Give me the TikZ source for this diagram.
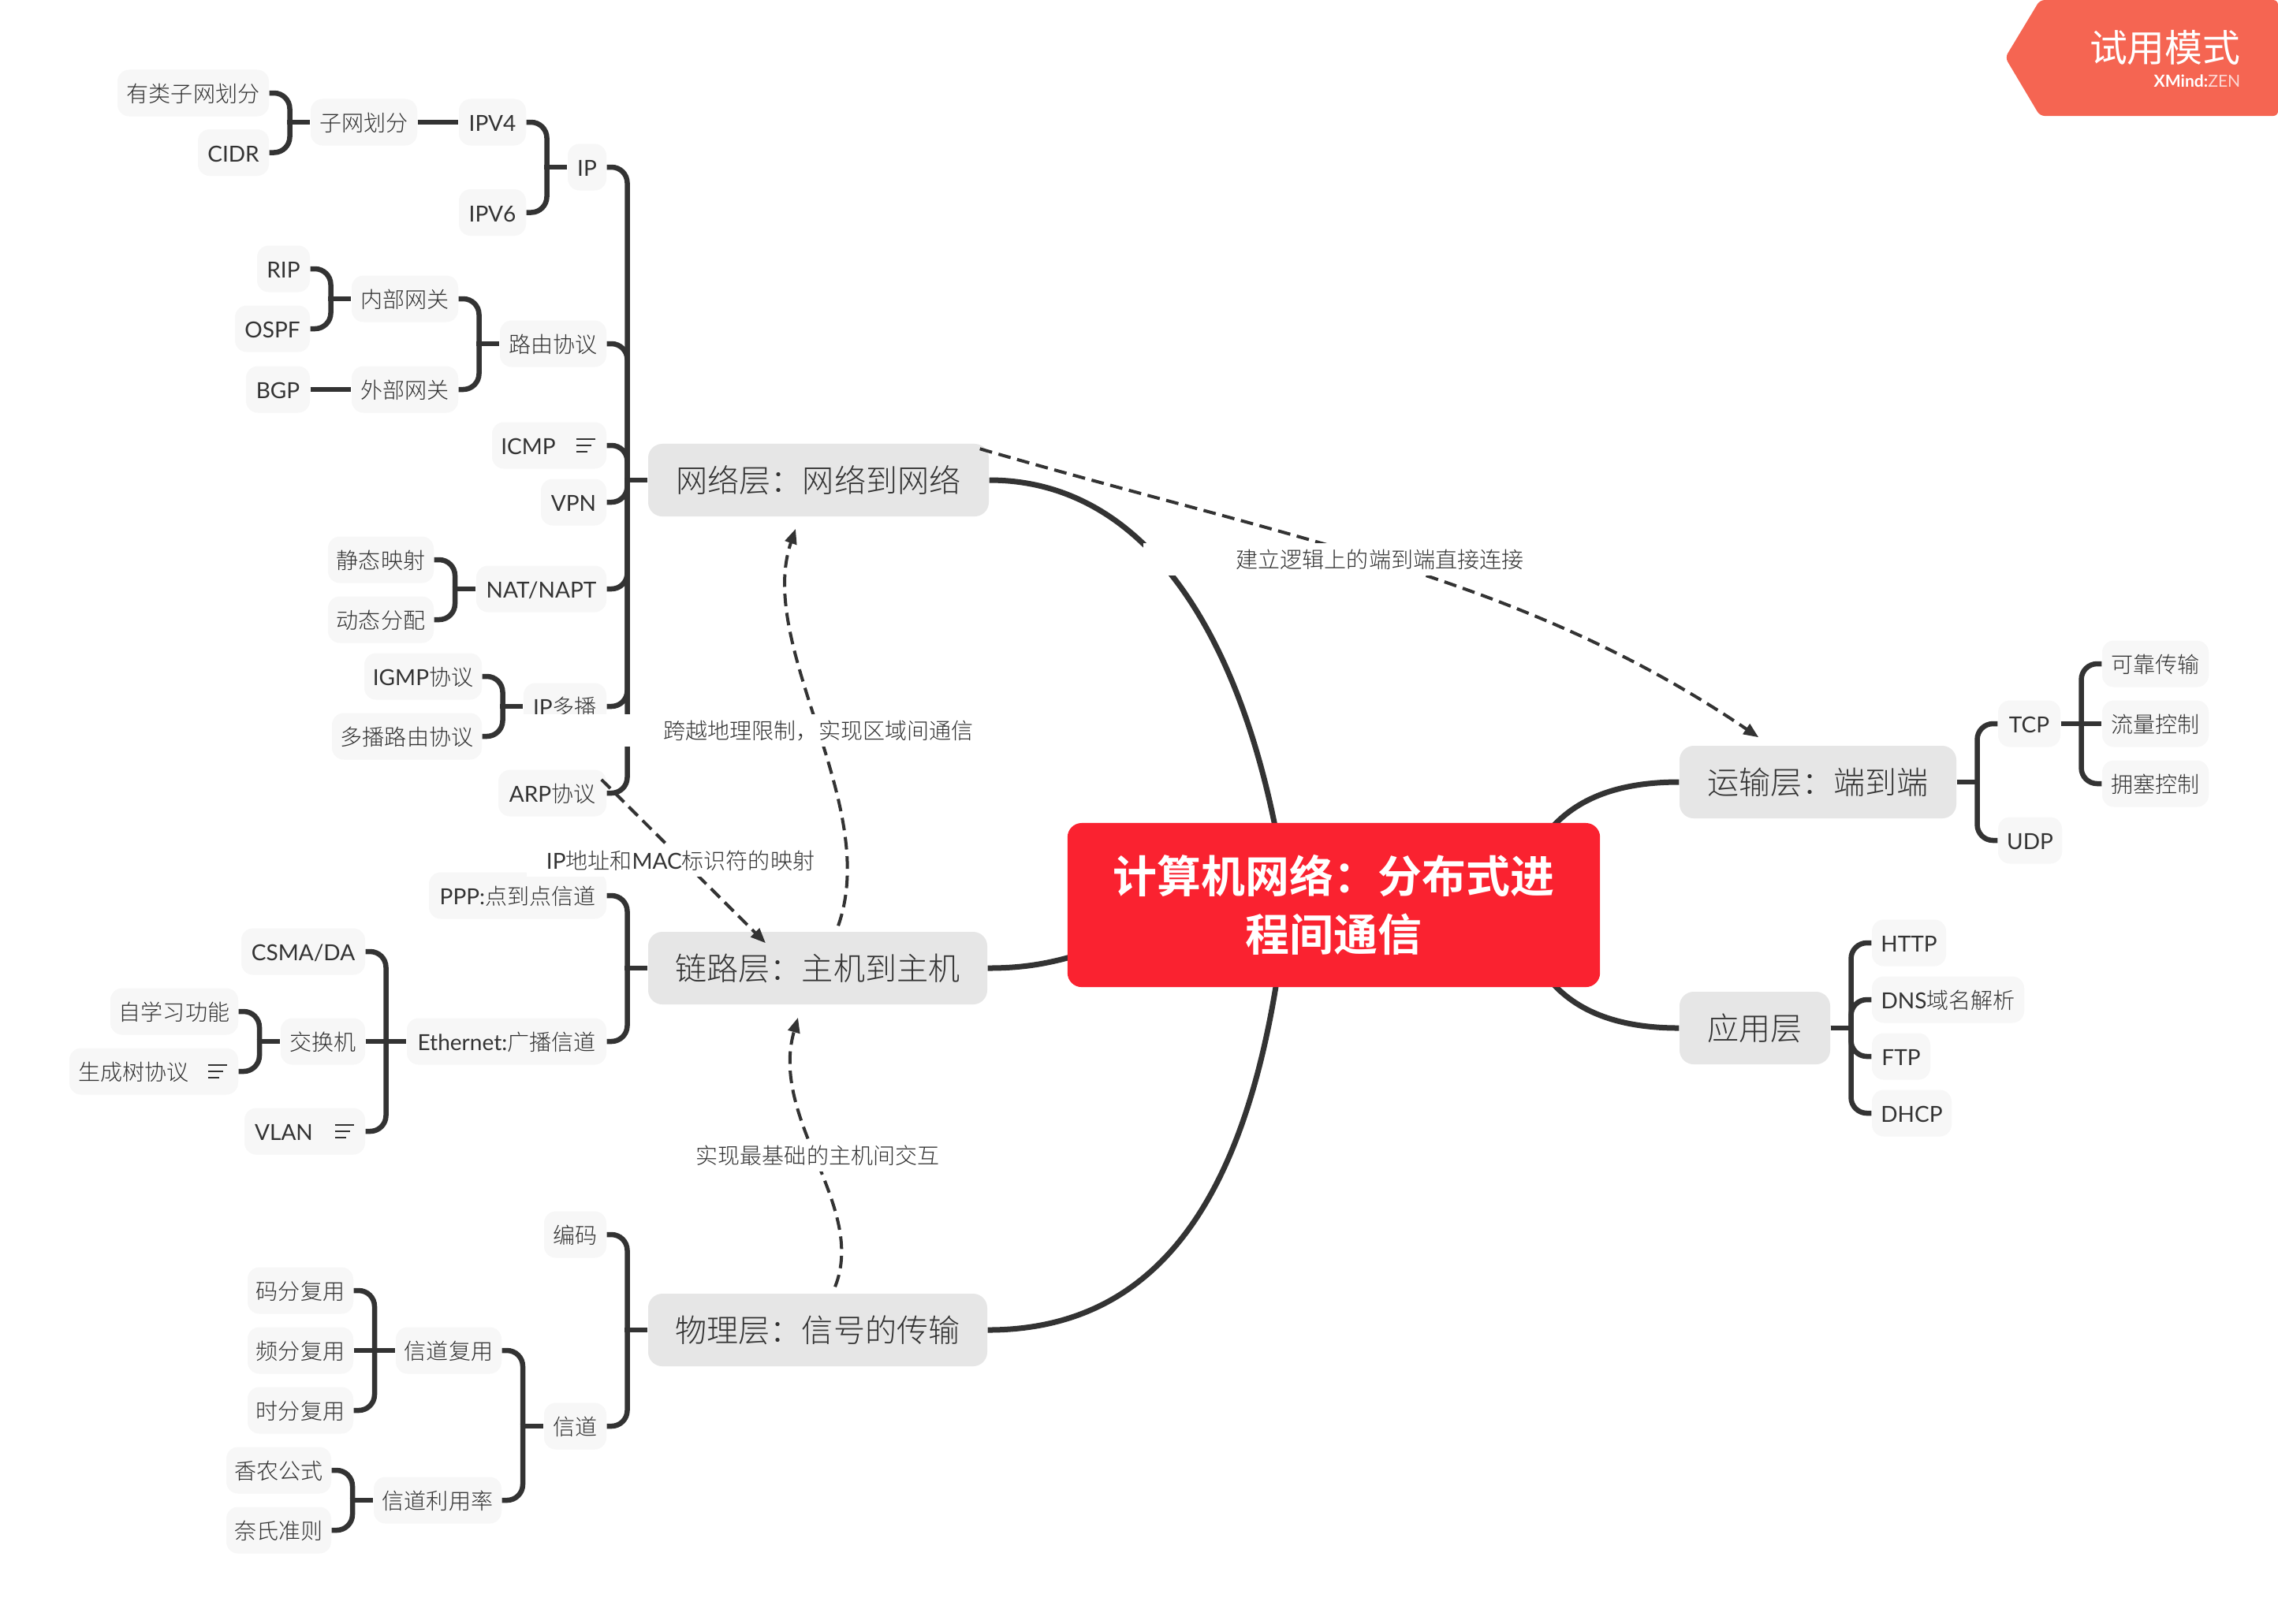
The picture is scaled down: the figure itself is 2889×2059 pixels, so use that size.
\documentclass[tikz,border=0pt]{standalone}
\usepackage{fontspec}
\setmainfont{Noto Sans CJK SC Light}[BoldFont={Noto Sans CJK SC Bold}]
\newfontfamily\latn{Lato}
\newfontfamily\cjkreg{Noto Sans CJK SC}
\usetikzlibrary{arrows.meta,calc,backgrounds}
\definecolor{ink}{HTML}{333333}
\definecolor{leaffill}{HTML}{F7F7F7}
\definecolor{mainfill}{HTML}{E6E6E6}
\definecolor{rootfill}{HTML}{FA2230}
\definecolor{badgefill}{HTML}{F56552}
\newcommand\la[1]{{\latn #1}}
\newcommand\fcolon{\char"FF1A\relax}
\newcommand\fcomma{\char"FF0C\relax}
\newcommand\mk[6][leaf]{\node[#1,minimum width={(#4-#3)*0.01cm}] (#2) at ({(#3+#4)/2},#5) {#6};}
\newcommand\lk[2]{%
  \draw[conn,rounded corners=.2cm] let \p1=(#1.east),\p2=(#2.west),\p3=($(#1.east)!.5!(#2.west)$) in (\p1) -- (\x3,\y1) -- (\x3,\y2);
  \draw[conn] let \p2=(#2.west),\p3=($(#1.east)!.5!(#2.west)$) in ([xshift=-.035cm]\x3,\y2) -- (\p2);}
\newcommand\lkr[2]{%
  \draw[conn,rounded corners=.2cm] let \p1=(#1.east),\p2=(#2.west),\p3=($(#1.east)!.5!(#2.west)$) in (\p2) -- (\x3,\y2) -- (\x3,\y1);
  \draw[conn] let \p1=(#1.east),\p3=($(#1.east)!.5!(#2.west)$) in (\p1) -- ([xshift=.035cm]\x3,\y1);}
\newcommand\st[2]{\draw[conn] (#1.east) -- (#2.west);}
\newcommand\noteicon[1]{%
  \draw[icon] ([shift={(-39,-8)}]#1.east) -- ([shift={(-15,-8)}]#1.east);
  \draw[icon] ([shift={(-39,0)}]#1.east) -- ([shift={(-20,0)}]#1.east);
  \draw[icon] ([shift={(-39,8)}]#1.east) -- ([shift={(-25,8)}]#1.east);}
\newcommand\iconpad[1]{\hspace{#1}\mbox{}}
\newcommand\smallstrut{\rule[-.09cm]{0pt}{.41cm}}
\newcommand\bigstrut{\rule[-.15cm]{0pt}{.60cm}}
\tikzset{
  x=.01cm,y=-.01cm,
  leaf/.style={draw=none,fill=leaffill,text=ink,rounded corners=.15cm,inner sep=0pt,minimum height=.59cm,font=\fontsize{7.97}{9}\selectfont,execute at begin node=\smallstrut},
  mainn/.style={draw=none,fill=mainfill,text=ink,rounded corners=.18cm,inner sep=0pt,minimum height=.92cm,font=\fontsize{11.4}{13}\selectfont,execute at begin node=\bigstrut},
  rootn/.style={draw=none,fill=rootfill,text=white,rounded corners=.18cm,inner sep=0pt,minimum height=2.08cm,align=center,font=\fontsize{15.9}{21}\selectfont\bfseries},
  conn/.style={draw=ink,line width=.065cm},
  trunk/.style={draw=ink,line width=.07cm},
  rel/.style={draw=ink,line width=.04cm,dash pattern=on .16cm off .085cm,-{Triangle[length=.19cm,width=.15cm]}},
  lab/.style={fill=white,text=ink,inner sep=0pt,font=\fontsize{7.97}{9}\selectfont,execute at begin node=\smallstrut},
  icon/.style={draw=ink,line width=.018cm},
}
\begin{document}
\begin{tikzpicture}
\useasboundingbox (0,0) rectangle (2889,2059);
% centre and main topics
\node[rootn,minimum width=6.75cm] (root) at (1691.5,1148) {计算机网络\fcolon 分布式进\\程间通信};
\mk[mainn]{net}{822}{1254}{609}{网络层\fcolon 网络到网络}
\mk[mainn]{link}{822}{1252}{1228}{链路层\fcolon 主机到主机}
\mk[mainn]{phy}{822}{1252}{1687}{物理层\fcolon 信号的传输}
\mk[mainn]{trans}{2130}{2481}{992}{运输层\fcolon 端到端}
\mk[mainn]{app}{2130}{2321}{1304}{应用层}
% trunk curves, behind the centre
\begin{pgfonlayer}{background}
\fill[white] (0,0) rectangle (2889,2059);
\draw[trunk] (net.east) .. controls (1450,609) and (1575,800) .. ([shift={(-67,-60)}]root.center);
\draw[trunk] (link.east) .. controls (1300,1228) and (1340,1222) .. ([shift={(-291,52)}]root.center);
\draw[trunk] (phy.east) .. controls (1480,1687) and (1585,1500) .. ([shift={(-67,60)}]root.center);
\draw[trunk] (trans.west) .. controls (2040,992) and (1990,1020) .. ([shift={(268,-88)}]root.center);
\draw[trunk] (app.west) .. controls (2040,1304) and (1990,1276) .. ([shift={(268,88)}]root.center);
\end{pgfonlayer}
% network layer
\mk{youlei}{149}{341}{118}{有类子网划分}
\mk{cidr}{251}{341}{193.5}{\la{CIDR}}
\mk{subnet}{394}{529}{155}{子网划分}
\mk{ipv4}{582}{667}{155}{\la{IPV4}}
\mk{ipv6}{582}{667}{269.5}{\la{IPV6}}
\mk{ip}{720}{769}{212}{\la{IP}}
\mk{rip}{326}{393}{341}{\la{RIP}}
\mk{ospf}{298}{393}{417}{\la{OSPF}}
\mk{bgp}{312}{393}{494}{\la{BGP}}
\mk{inner}{446}{581}{379}{内部网关}
\mk{outer}{446}{581}{494}{外部网关}
\mk{route}{634}{769}{436}{路由协议}
\mk{icmp}{624}{769}{565}{\la{ICMP}\iconpad{.53cm}}
\mk{vpn}{686}{769}{637}{\la{VPN}}
\mk{static}{416}{550}{710}{静态映射}
\mk{dyn}{416}{550}{786}{动态分配}
\mk{nat}{604}{769}{747}{\la{NAT/NAPT}}
\mk{igmp}{462}{611}{858}{\la{IGMP}协议}
\mk{mroute}{421}{611}{934}{多播路由协议}
\mk{mcast}{664}{769}{896}{\la{IP}多播}
\mk{arp}{632}{769}{1006}{\la{ARP}协议}
% link layer
\mk{ppp}{544}{769}{1136}{\la{PPP:}点到点信道}
\mk{eth}{516}{769}{1321}{\la{Ethernet:}广播信道}
\mk{csma}{306}{463}{1207}{\la{CSMA/DA}}
\mk{switch}{356}{463}{1321}{交换机}
\mk{vlan}{310}{463}{1435}{\la{VLAN}\iconpad{.53cm}}
\mk{selfl}{140}{302}{1283}{自学习功能}
\mk{stp}{88}{302}{1359}{生成树协议\iconpad{.51cm}}
% physical layer
\mk{code}{690}{769}{1566}{编码}
\mk{chan}{690}{769}{1809}{信道}
\mk{mux}{502}{636}{1713}{信道复用}
\mk{util}{474}{636}{1903}{信道利用率}
\mk{cdm}{314}{448}{1637}{码分复用}
\mk{fdm}{314}{448}{1713}{频分复用}
\mk{tdm}{314}{448}{1789}{时分复用}
\mk{shannon}{287}{420}{1865}{香农公式}
\mk{nyq}{287}{420}{1941}{奈氏准则}
% right side
\mk{tcp}{2534}{2613}{918}{\la{TCP}}
\mk{udp}{2534}{2615}{1066}{\la{UDP}}
\mk{relia}{2666}{2801}{842}{可靠传输}
\mk{flow}{2666}{2801}{918}{流量控制}
\mk{cong}{2666}{2801}{994}{拥塞控制}
\mk{http}{2374}{2468}{1196}{\la{HTTP}}
\mk{dns}{2374}{2567}{1268}{\la{DNS}域名解析}
\mk{ftp}{2374}{2448}{1340}{\la{FTP}}
\mk{dhcp}{2374}{2475}{1412}{\la{DHCP}}
% connectors
\lk{youlei}{subnet}\lk{cidr}{subnet}\st{subnet}{ipv4}\lk{ipv4}{ip}\lk{ipv6}{ip}\lk{ip}{net}
\lk{rip}{inner}\lk{ospf}{inner}\st{bgp}{outer}\lk{inner}{route}\lk{outer}{route}\lk{route}{net}
\lk{icmp}{net}\lk{vpn}{net}
\lk{static}{nat}\lk{dyn}{nat}\lk{nat}{net}
\lk{igmp}{mcast}\lk{mroute}{mcast}\lk{mcast}{net}\lk{arp}{net}
\lk{ppp}{link}\lk{eth}{link}
\lk{csma}{eth}\st{switch}{eth}\lk{vlan}{eth}
\lk{selfl}{switch}\lk{stp}{switch}
\lk{code}{phy}\lk{chan}{phy}
\lk{mux}{chan}\lk{util}{chan}
\lk{cdm}{mux}\st{fdm}{mux}\lk{tdm}{mux}
\lk{shannon}{util}\lk{nyq}{util}
\lkr{trans}{tcp}\lkr{trans}{udp}
\lkr{tcp}{relia}\st{tcp}{flow}\lkr{tcp}{cong}
\lkr{app}{http}\lkr{app}{dns}\lkr{app}{ftp}\lkr{app}{dhcp}
\noteicon{icmp}\noteicon{vlan}\noteicon{stp}
% relationships
\draw[rel] ([shift={(-12,7)}]net.north east) .. controls (1642,685) and (1931,732) .. ([shift={(101,-10)}]trans.north west);
\draw[rel] ([shift={(26,-7)}]link.north) .. controls (1118,1020) and (958,820) .. ([shift={(-29,15)}]net.south);
\draw[rel] ([shift={(-7,13)}]arp.north east) -- ([shift={(-66,15)}]link.north);
\draw[rel] ([shift={(22,-8)}]phy.north) .. controls (1100,1530) and (975,1420) .. ([shift={(-25,16)}]link.south);
% relationship labels
\node[lab,minimum width=6cm,minimum height=.36cm] (l1) at (1750,709) {建立逻辑上的端到端直接连接};
\node[lab,minimum width=7.8cm,minimum height=.36cm] (l2) at (1038,926) {跨越地理限制\fcomma 实现区域间通信};
\node[lab,minimum width=3.9cm,minimum height=.38cm] (l3) at (863,1091) {\la{IP}地址和\la{MAC}标识符的映射};
\node[lab,minimum width=3.5cm,minimum height=.37cm] (l4) at (1037,1465) {实现最基础的主机间交互};
% trial badge
\fill[badgefill,rounded corners=.06cm] (2543,73) -- (2587,0) -- (2889,0) -- (2889,147) -- (2587,147) -- cycle;
\node[anchor=east,inner sep=0pt,text=white,font=\fontsize{13.6}{15}\cjkreg] (trial) at (2842,60) {试用模式};
\node[anchor=east,inner sep=0pt,text=white,font=\fontsize{6}{7}\latn] (brand) at (2842,103) {\textbf{XMind:}\textcolor{white!75!badgefill}{ZEN}};
\end{tikzpicture}
\end{document}
